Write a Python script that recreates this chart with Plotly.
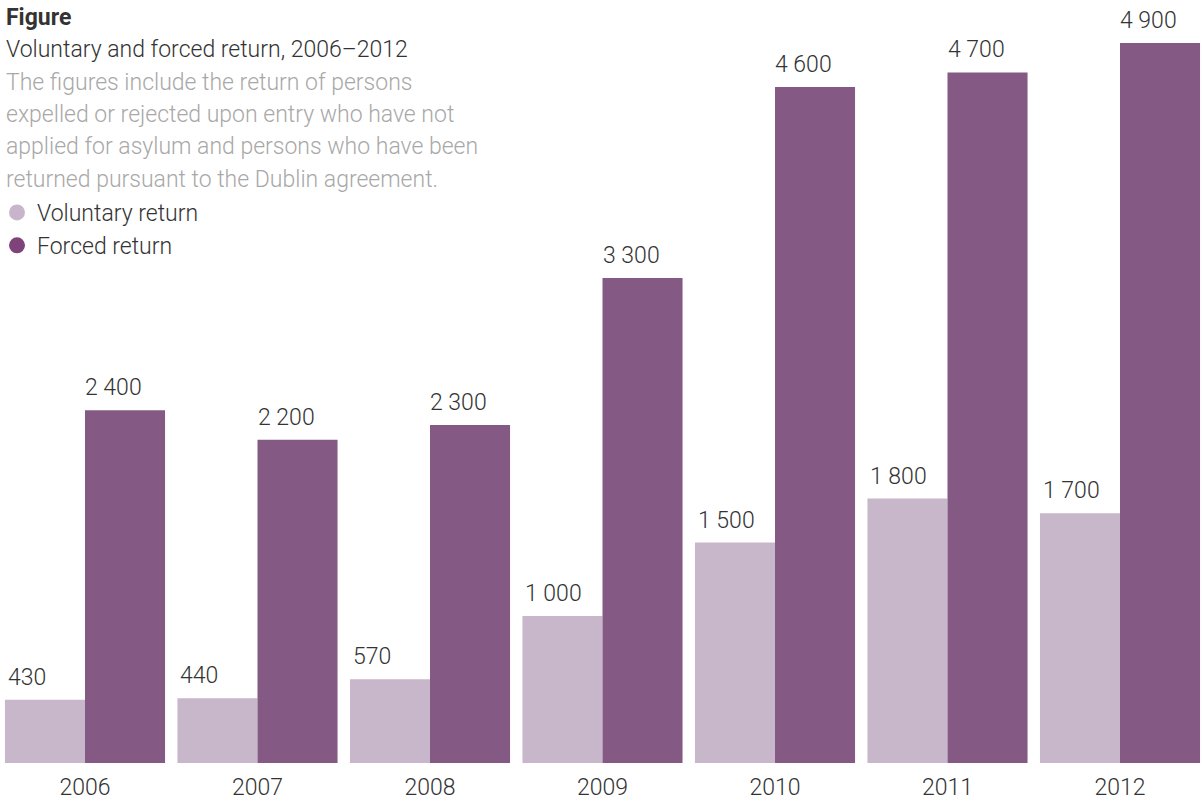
import plotly.graph_objects as go

# Data
years = ["2006", "2007", "2008", "2009", "2010", "2011", "2012"]
voluntary = [430, 440, 570, 1000, 1500, 1800, 1700]
forced = [2400, 2200, 2300, 3300, 4600, 4700, 4900]

title = "Figure"
subtitle = "Voluntary and forced return, 2006–2012"
note_lines = [
    "The figures include the return of persons",
    "expelled or rejected upon entry who have not",
    "applied for asylum and persons who have been",
    "returned pursuant to the Dublin agreement.",
]

VOL_COLOR = "#c8b6ca"
FOR_COLOR = "#845984"
LEG_VOL = "#c9b5cb"
LEG_FOR = "#7e4379"
DARK = "#333333"
GREY = "#a8a8a8"
FONT = "Roboto"
FS = 23

W, H = 1203, 801
BASE = 763          # pixel row of the zero line
BAR_W = 0.464
idx = list(range(len(years)))


def fmt(v):
    return f"{v:,}".replace(",", " ")


fig = go.Figure()

fig.add_trace(go.Bar(x=idx, y=voluntary, width=BAR_W, offset=-BAR_W,
                     marker=dict(color=VOL_COLOR, line=dict(width=0)),
                     showlegend=False, hoverinfo="skip"))
fig.add_trace(go.Bar(x=idx, y=forced, width=BAR_W, offset=0,
                     marker=dict(color=FOR_COLOR, line=dict(width=0)),
                     showlegend=False, hoverinfo="skip"))

# legend entries
fig.add_trace(go.Scatter(x=[None], y=[None], mode="markers", name="Voluntary return",
                         marker=dict(symbol="circle", size=18, color=LEG_VOL),
                         legendgroup="v"))
fig.add_trace(go.Scatter(x=[None], y=[None], mode="markers", name="Forced return",
                         marker=dict(symbol="circle", size=18, color=LEG_FOR),
                         legendgroup="f"))

px_per_unit = 720 / 4900
ymax = BASE / px_per_unit
group_px = 172.5
x0 = -85 / group_px
x1 = x0 + W / group_px


def py(pix):
    return 1 - pix / BASE


label_font = dict(family=FONT, size=FS, color=DARK, weight=300)
annotations = []

# value labels, left aligned over each bar
for i, v in zip(idx, voluntary):
    annotations.append(dict(text=fmt(v), x=i - BAR_W, y=v, xref="x", yref="y",
                            xanchor="left", yanchor="bottom", yshift=7, xshift=1,
                            showarrow=False, font=label_font))
for i, v in zip(idx, forced):
    annotations.append(dict(text=fmt(v), x=i, y=v, xref="x", yref="y",
                            xanchor="left", yanchor="bottom", yshift=7, xshift=-2,
                            showarrow=False, font=label_font))

# heading block
head = [
    dict(text="<b>" + title + "</b>", y=18, color=DARK, weight=600),
    dict(text=subtitle, y=50, color=DARK, weight=300),
]
for k, line in enumerate(note_lines):
    head.append(dict(text=line, y=83 + 32 * k, color=GREY, weight=300))

for a in head:
    annotations.append(dict(
        text=a["text"], xref="paper", yref="paper",
        x=0, y=py(a["y"]), xanchor="left", yanchor="middle", xshift=4,
        showarrow=False,
        font=dict(family=FONT, size=FS, color=a["color"], weight=a["weight"])))

fig.update_layout(
    width=W, height=H,
    margin=dict(l=0, r=0, t=0, b=H - BASE, autoexpand=False),
    paper_bgcolor="white", plot_bgcolor="white",
    barmode="overlay",
    annotations=annotations,
    showlegend=True,
    legend=dict(x=-3 / W, y=py(191), xanchor="left", yanchor="top",
                bgcolor="rgba(0,0,0,0)", tracegroupgap=0,
                font=dict(family=FONT, size=FS, color=DARK, weight=300)),
    xaxis=dict(range=[x0, x1], tickvals=idx, ticktext=years, showgrid=False,
               zeroline=False, showline=False, ticks="", fixedrange=True,
               ticklabelstandoff=8, automargin=False,
               tickfont=dict(family=FONT, size=FS, color=DARK, weight=300)),
    yaxis=dict(range=[0, ymax], visible=False, showgrid=False, zeroline=False,
               fixedrange=True, automargin=False),
)

fig.write_html("out.html", config=dict(displayModeBar=False))
